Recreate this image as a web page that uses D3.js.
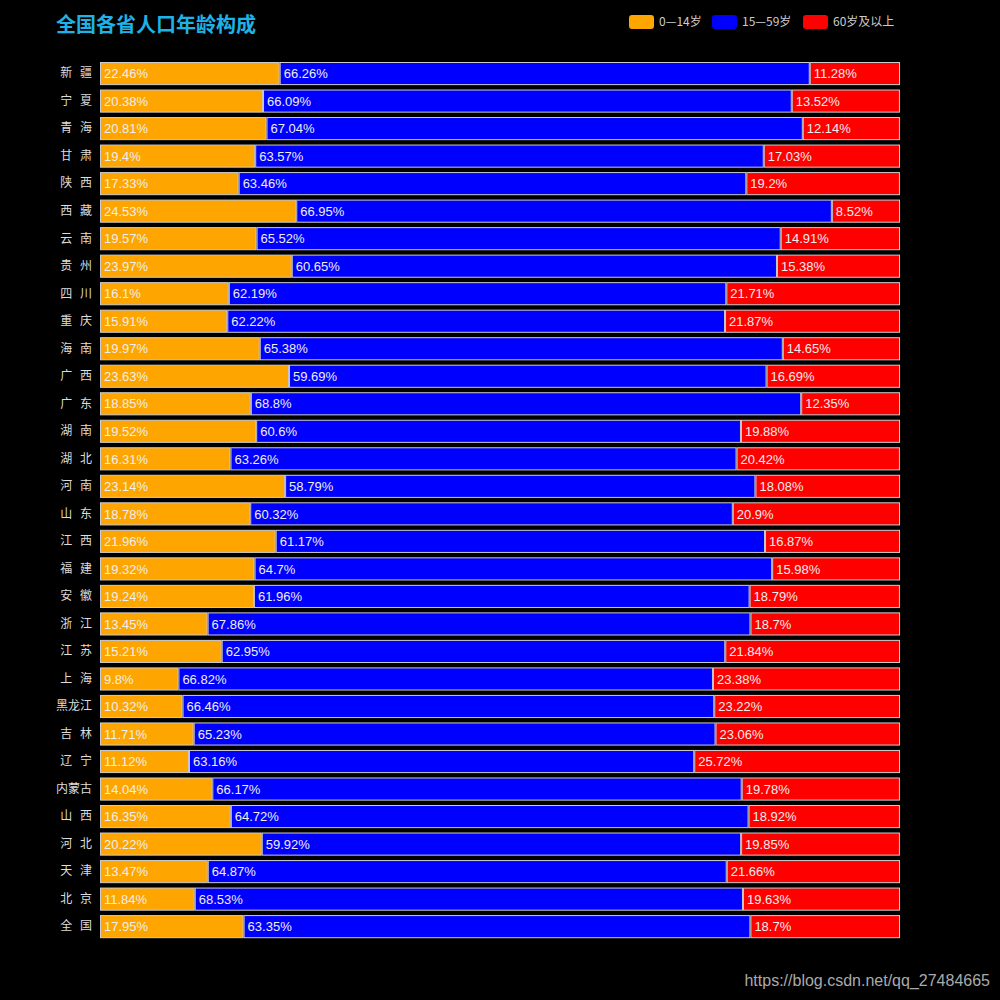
<!DOCTYPE html>
<html><head><meta charset="utf-8">
<script src="https://cdn.jsdelivr.net/npm/d3@7"></script>
<style>html,body{margin:0;padding:0;background:#000;}</style>
</head><body>
<svg id="c" width="1000" height="1000"></svg>
<script>
const provinces = ["新 疆","宁 夏","青 海","甘 肃","陕 西","西 藏","云 南","贵 州","四 川","重 庆","海 南","广 西","广 东","湖 南","湖 北","河 南","山 东","江 西","福 建","安 徽","浙 江","江 苏","上 海","黑龙江","吉 林","辽 宁","内蒙古","山 西","河 北","天 津","北 京","全 国"];
const age0_14 = [22.46,20.38,20.81,19.4,17.33,24.53,19.57,23.97,16.1,15.91,19.97,23.63,18.85,19.52,16.31,23.14,18.78,21.96,19.32,19.24,13.45,15.21,9.8,10.32,11.71,11.12,14.04,16.35,20.22,13.47,11.84,17.95];
const age15_59 = [66.26,66.09,67.04,63.57,63.46,66.95,65.52,60.65,62.19,62.22,65.38,59.69,68.8,60.6,63.26,58.79,60.32,61.17,64.7,61.96,67.86,62.95,66.82,66.46,65.23,63.16,66.17,64.72,59.92,64.87,68.53,63.35];
const age60 = [11.28,13.52,12.14,17.03,19.2,8.52,14.91,15.38,21.71,21.87,14.65,16.69,12.35,19.88,20.42,18.08,20.9,16.87,15.98,18.79,18.7,21.84,23.38,23.22,23.06,25.72,19.78,18.92,19.85,21.66,19.63,18.7];
const seriesNames = ["0—14岁","15—59岁","60岁及以上"];
const seriesColors = ["#ffa500","#0000ff","#ff0000"];
const titleText = "全国各省人口年龄构成";
const watermark = "https://blog.csdn.net/qq_27484665";

const svg = d3.select("#c");
const rows = provinces.map((p,i)=>({name:p, v:[age0_14[i], age15_59[i], age60[i]]}));

const x = d3.scaleLinear().domain([0,100]).range([100,900]);
const y = d3.scaleBand().domain(provinces).range([59.8,940.4]).paddingInner(0.16).paddingOuter(0.08);

// title
svg.append("text").attr("x",56).attr("y",32)
  .attr("fill","#1eb2e6").attr("font-size",20).attr("font-weight","bold")
  .attr("font-family","'Noto Sans CJK SC', sans-serif").text(titleText);

// legend
const legX = [629,712,803];
seriesNames.forEach((n,i)=>{
  svg.append("rect").attr("x",legX[i]).attr("y",15).attr("width",25).attr("height",14)
    .attr("rx",3).attr("fill",seriesColors[i]);
  svg.append("text").attr("x",legX[i]+30).attr("y",22).attr("dy","0.35em")
    .attr("fill","#ccc").attr("font-size",12)
    .attr("font-family","'Noto Sans CJK SC', sans-serif").text(n);
});

// y axis labels
const yAxis = d3.axisLeft(y).tickSize(0).tickPadding(7);
const ga = svg.append("g").attr("transform","translate(99,0)").call(yAxis);
ga.select(".domain").remove();
ga.selectAll("text").attr("fill","#ddd").attr("font-size",12)
  .attr("word-spacing","5px").style("white-space","pre")
  .attr("font-family","'Noto Sans CJK SC', sans-serif");

// bars
rows.forEach(r=>{
  let acc = 0;
  r.v.forEach((val,i)=>{
    const x0 = x(acc), x1 = x(acc+val);
    svg.append("rect").attr("x",x0+0.5).attr("y",y(r.name)+0.5)
      .attr("width",x1-x0-1).attr("height",y.bandwidth()-1)
      .attr("fill",seriesColors[i]).attr("stroke","#ccc").attr("stroke-width",1);
    svg.append("text").attr("x",x0+4).attr("y",y(r.name)+y.bandwidth()/2).attr("dy","0.36em")
      .attr("fill","#eee").attr("font-size",13)
      .attr("font-family","'Liberation Sans', Arial, sans-serif").text(val+"%");
    acc += val;
  });
});

// watermark
svg.append("text").attr("x",990).attr("y",986).attr("text-anchor","end")
  .attr("fill","#aaa").attr("font-size",16)
  .attr("font-family","'Liberation Sans', Arial, sans-serif").text(watermark);
</script>
</body></html>
